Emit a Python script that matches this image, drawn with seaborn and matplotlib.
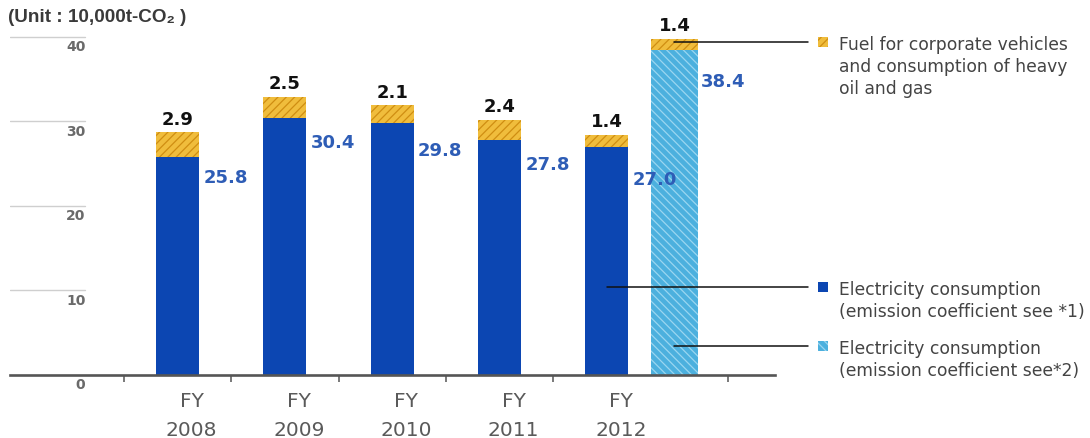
import numpy as np
import pandas as pd
import matplotlib
matplotlib.use("Agg")
import matplotlib.pyplot as plt
import seaborn as sns
from matplotlib.patches import Rectangle

# ---------------- data ----------------
years = ["2008", "2009", "2010", "2011", "2012"]
elec_coef1 = [25.8, 30.4, 29.8, 27.8, 27.0]      # Electricity consumption (*1)
fuel = [2.9, 2.5, 2.1, 2.4, 1.4]                  # Fuel for corporate vehicles etc.
elec_coef2_2012 = [38.4]                          # Electricity consumption (*2), FY2012
fuel_coef2_2012 = [1.4]
y_ticks = [0, 10, 20, 30, 40]
unit_label = "(Unit : 10,000t-CO\u2082 )"
legend_texts = [
    "Fuel for corporate vehicles\nand consumption of heavy\noil and gas",
    "Electricity consumption\n(emission coefficient see *1)",
    "Electricity consumption\n(emission coefficient see*2)",
]

# ---------------- style ----------------
DARK_BLUE = "#0c46b2"
LIGHT_BLUE = "#4cb0de"
LIGHT_BLUE_HATCH = "#9ad6f0"
YELLOW = "#f0bd3c"
YELLOW_HATCH = "#cf8e12"
LABEL_BLUE = "#2e5db6"
GRAY_TXT = "#5a5a5a"

sns.set_theme(style="white")
plt.rcParams["font.family"] = ["DejaVu Sans"]
plt.rcParams["hatch.linewidth"] = 0.9

W, H = 1090, 439
fig = plt.figure(figsize=(W / 100, H / 100), dpi=100)
fx = lambda px: px / W
fy = lambda py: 1 - py / H

# axes: x from px 10 to 775, y baseline px 376, top px 21
ax = fig.add_axes([fx(10), fy(376), (775 - 10) / W, (376 - 21) / H])

# bar positions (category units)
pos1 = np.arange(len(years)) + 0.5
pos2 = [5.13]
bw1, bw2 = 0.40, 0.43

df1 = pd.DataFrame({"x": pos1, "total": np.add(elec_coef1, fuel), "elec": elec_coef1})
df2 = pd.DataFrame({"x": pos2, "total": np.add(elec_coef2_2012, fuel_coef2_2012),
                    "elec": elec_coef2_2012})

common = dict(orient="x", native_scale=True, saturation=1, errorbar=None,
              linewidth=0, ax=ax)
sns.barplot(data=df1, x="x", y="total", width=bw1, color=YELLOW,
            edgecolor=YELLOW_HATCH, hatch="////", **common)
sns.barplot(data=df1, x="x", y="elec", width=bw1, color=DARK_BLUE,
            edgecolor=DARK_BLUE, **common)
sns.barplot(data=df2, x="x", y="total", width=bw2, color=YELLOW,
            edgecolor=YELLOW_HATCH, hatch="////", **common)
sns.barplot(data=df2, x="x", y="elec", width=bw2, color=LIGHT_BLUE,
            edgecolor=LIGHT_BLUE_HATCH, hatch="\\\\\\\\", **common)
ax.set_xlim(-1.062, 6.067)
ax.set_ylim(0, 42)
ax.set_xlabel("")
ax.set_ylabel("")

# value labels
val_font = dict(family="DejaVu Sans", fontweight="bold", fontsize=13)
blue_offsets = [2.4, 2.8, 3.2, 2.8, 3.8]
for x, e, f, off in zip(pos1, elec_coef1, fuel, blue_offsets):
    ax.text(x, e + f + 0.55, f"{f:.1f}", ha="center", va="bottom", color="#111111", **val_font)
    ax.text(x + bw1 / 2 + 0.04, e - off, f"{e:.1f}", ha="left", va="center",
            color=LABEL_BLUE, **val_font)
for x, e, f in zip(pos2, elec_coef2_2012, fuel_coef2_2012):
    ax.text(x, e + f + 0.55, f"{f:.1f}", ha="center", va="bottom", color="#111111", **val_font)
    ax.text(x + bw2 / 2 + 0.03, e - 3.6, f"{e:.1f}", ha="left", va="center",
            color=LABEL_BLUE, **val_font)

# spines / ticks
for s in ["left", "right", "top"]:
    ax.spines[s].set_visible(False)
ax.spines["bottom"].set_color("#555555")
ax.spines["bottom"].set_linewidth(1.9)
ax.set_yticks([])
ax.set_xticks([0, 1, 2, 3, 4, 5.63])
ax.set_xticklabels([""] * 6)
ax.set_xticks(pos1 + 0.13, minor=True)
ax.set_xticklabels([f"FY\n{y}" for y in years], minor=True, fontsize=14.5,
                   color=GRAY_TXT, linespacing=1.7)
ax.tick_params(axis="x", which="major", bottom=True, length=5, width=1.1,
               color="#555555", direction="out")
ax.tick_params(axis="x", which="minor", bottom=True, length=0, pad=11.5)

# short grid segments + y labels
for v in y_ticks:
    if v > 0:
        ax.axhline(v, xmin=0, xmax=(85 - 10) / 765, color="#cfcfcf", lw=1.0, zorder=0)
    ax.text(-0.36, v - 1.08, str(v), ha="right", va="center", fontsize=10,
            fontweight="bold", color="#6a6a6a", clip_on=False)

fig.text(fx(8), fy(17), unit_label, ha="left", va="center", fontsize=13.6,
         fontweight="bold", color="#3a3a3a", family=["Liberation Sans", "DejaVu Sans"])

# legend callouts
x_end = 6.375
ax.plot([pos2[0], x_end], [39.4, 39.4], color="#111111", lw=1.1, clip_on=False, zorder=5)
ax.plot([pos1[-1], x_end], [10.4, 10.4], color="#111111", lw=1.1, clip_on=False, zorder=5)
ax.plot([pos2[0], x_end], [3.4, 3.4], color="#111111", lw=1.1, clip_on=False, zorder=5)

markers = [(43, YELLOW, YELLOW_HATCH, "////"),
           (288, DARK_BLUE, DARK_BLUE, None),
           (347, LIGHT_BLUE, LIGHT_BLUE_HATCH, "\\\\\\\\")]
for (py, fc, ec, hatch), txt in zip(markers, legend_texts):
    fig.add_artist(Rectangle((fx(818), fy(py + 5)), 10 / W, 10 / H, transform=fig.transFigure,
                             facecolor=fc, edgecolor=ec, hatch=hatch, linewidth=0))
    fig.text(fx(839), fy(py - 7), txt, ha="left", va="top", fontsize=12.3,
             color="#444444", linespacing=1.27)

fig.savefig("out.png", dpi=100)
